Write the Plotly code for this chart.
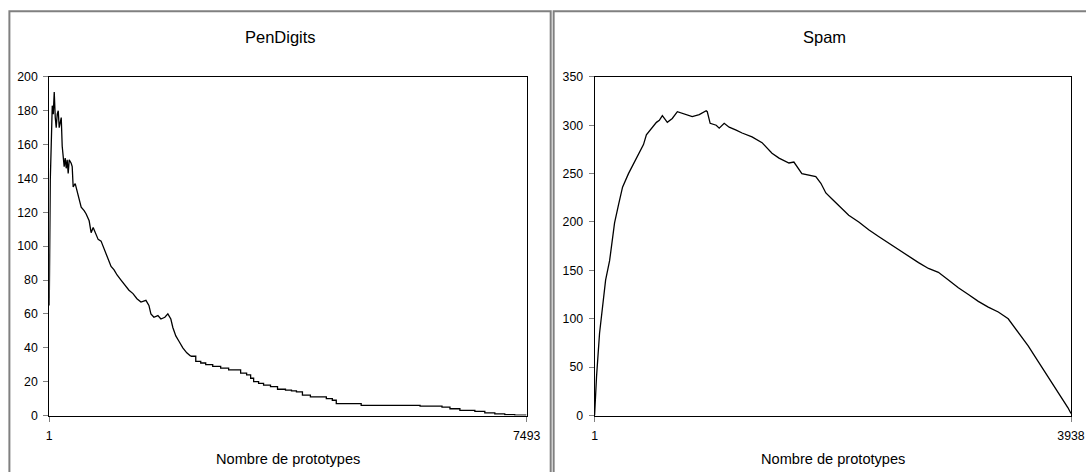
import plotly.graph_objects as go

# ---- PenDigits data ----
pen_x = [1, 9, 17, 32, 48, 64, 79, 95, 110, 126, 142, 157, 173, 189, 204, 220, 235, 251, 267, 282,
         298, 314, 345, 361, 376, 408, 423, 455, 502, 548, 580, 627, 642, 658, 690, 721, 768, 814,
         846, 893, 924, 971, 1018, 1065, 1127, 1190, 1252, 1315, 1377, 1440, 1518, 1565, 1596, 1643,
         1706, 1753, 1815, 1862, 1909, 1940, 1987, 2034, 2097, 2159, 2222, 2300, 2378, 2456, 2566,
         2691, 2816, 2926, 3004, 3098, 3161, 3208, 3286, 3364, 3473, 3583, 3708, 3802, 3880, 3974,
         4099, 4255, 4349, 4443, 4505, 4646, 4896, 5194, 5507, 5820, 6164, 6289, 6445, 6680, 6836,
         6993, 7149, 7305, 7430, 7480]
pen_y = [65, 120, 139, 160, 183, 178, 191, 176, 170, 178, 180, 170, 174, 176, 159, 154, 147, 152, 146, 151,
         143, 151, 149, 147, 135, 137, 135, 130, 123, 121, 119, 115, 112, 108, 111, 108, 104, 103,
         100, 95, 92, 88, 86, 83, 80, 77, 74, 72, 69, 67, 68, 65, 60, 58,
         59, 57, 58, 60, 57, 52, 47, 44, 40, 37, 35, 32, 31, 30, 29,
         28, 27, 27, 25, 24, 22, 20, 19, 18, 17, 15.5, 15, 14.5, 14, 12,
         11, 11, 10, 9, 7, 7, 6, 6, 6, 5.5, 5, 4, 3, 2.5, 1.5,
         1, 0.5, 0.2, 0.2, 0]
pen_step_from = 2222  # from here on the curve is drawn as a staircase

# ---- Spam data ----
spam_x = [1, 17, 42, 67, 92, 125, 166, 199, 232, 281, 306, 347, 372, 405, 429, 470, 512, 536, 561, 602,
          643, 685, 759, 808, 866, 923, 932, 956, 1006, 1031, 1072, 1113, 1171, 1220, 1302, 1385, 1467,
          1525, 1607, 1648, 1714, 1829, 1871, 1912, 1961, 2019, 2101, 2184, 2266, 2348, 2431, 2513,
          2595, 2678, 2760, 2842, 2925, 3007, 3090, 3172, 3254, 3337, 3419, 3501, 3584, 3666, 3748,
          3831, 3872, 3913, 3938]
spam_y = [0, 40, 85, 115, 140, 160, 199, 218, 236, 250, 256, 266, 272, 280, 290, 297, 303, 305, 310, 303,
          307, 314, 311, 309, 311, 315, 314, 302, 300, 297, 302, 298, 295, 292, 288, 282, 271,
          266, 261, 262, 250, 247, 240, 230, 224, 217, 207, 200, 192, 185, 178, 172,
          165, 158, 152, 148, 140, 132, 125, 118, 112, 107, 100, 86, 72, 56, 40,
          25, 17, 8, 2]

pen_xticks = [1, 7493]
spam_xticks = [1, 3938]
titles = ["PenDigits", "Spam"]
xlabel = "Nombre de prototypes"

W, H = 1086, 472
FONT = "Liberation Sans, Arial, sans-serif"

def px(x):
    return x / W

def py(y):
    return 1 - y / H

k = pen_x.index(pen_step_from)
fig = go.Figure()
fig.add_trace(go.Scatter(x=pen_x[:k + 1], y=pen_y[:k + 1], mode="lines",
                         line=dict(color="black", width=1.3),
                         xaxis="x", yaxis="y", showlegend=False, hoverinfo="skip"))
fig.add_trace(go.Scatter(x=pen_x[k:], y=pen_y[k:], mode="lines",
                         line=dict(color="black", width=1.3, shape="hv"),
                         xaxis="x", yaxis="y", showlegend=False, hoverinfo="skip"))
fig.add_trace(go.Scatter(x=spam_x, y=spam_y, mode="lines", line=dict(color="black", width=1.3),
                         xaxis="x2", yaxis="y2", showlegend=False, hoverinfo="skip"))

ydom = [py(421), py(72)]
common_x = dict(showline=True, linecolor="black", linewidth=1, mirror=True, showgrid=False,
                zeroline=False, ticks="outside", ticklen=5, tickcolor="#808080",
                tickfont=dict(family=FONT, size=12.3, color="black"), ticklabelstandoff=4)
common_y = dict(showline=True, linecolor="black", linewidth=1, mirror=True, showgrid=False,
                zeroline=False, ticks="outside", ticklen=5, tickcolor="#808080",
                tickfont=dict(family=FONT, size=12.3, color="black"), ticklabelstandoff=3)

fig.update_layout(
    width=W, height=H, margin=dict(l=0, r=0, t=0, b=0),
    paper_bgcolor="white", plot_bgcolor="white",
    xaxis=dict(domain=[px(47), px(532)], range=[1, 7493], tickmode="array",
               tickvals=pen_xticks, ticktext=[str(v) for v in pen_xticks], anchor="y", **common_x),
    yaxis=dict(domain=ydom, range=[0, 200], dtick=20, anchor="x", **common_y),
    xaxis2=dict(domain=[px(601), px(1085)], range=[1, 3938], tickmode="array",
                tickvals=spam_xticks, ticktext=[str(v) for v in spam_xticks], anchor="y2", **common_x),
    yaxis2=dict(domain=ydom, range=[0, 350], dtick=50, anchor="x2", **common_y),
)

# panel borders
fig.add_shape(type="rect", xref="paper", yref="paper", x0=px(6.5), x1=px(556.4), y0=-0.1, y1=py(4.5),
              line=dict(color="#808080", width=2), layer="below")
fig.add_shape(type="rect", xref="paper", yref="paper", x0=px(559.4), x1=px(1110), y0=-0.1, y1=py(4.5),
              line=dict(color="#808080", width=2), layer="below")

# titles
for cx, t in [(282, titles[0]), (835, titles[1])]:
    fig.add_annotation(text=t, xref="paper", yref="paper", x=px(cx), y=py(31), showarrow=False,
                       xanchor="center", yanchor="middle", font=dict(family=FONT, size=16.5, color="black"))
for cx in [289.5, 843]:
    fig.add_annotation(text=xlabel, xref="paper", yref="paper", x=px(cx), y=py(466), showarrow=False,
                       xanchor="center", yanchor="middle", font=dict(family=FONT, size=14.6, color="black"))

fig.write_html("out.html", config={"displayModeBar": False},
               post_script="document.body.style.margin='0';document.body.style.overflow='hidden';")
